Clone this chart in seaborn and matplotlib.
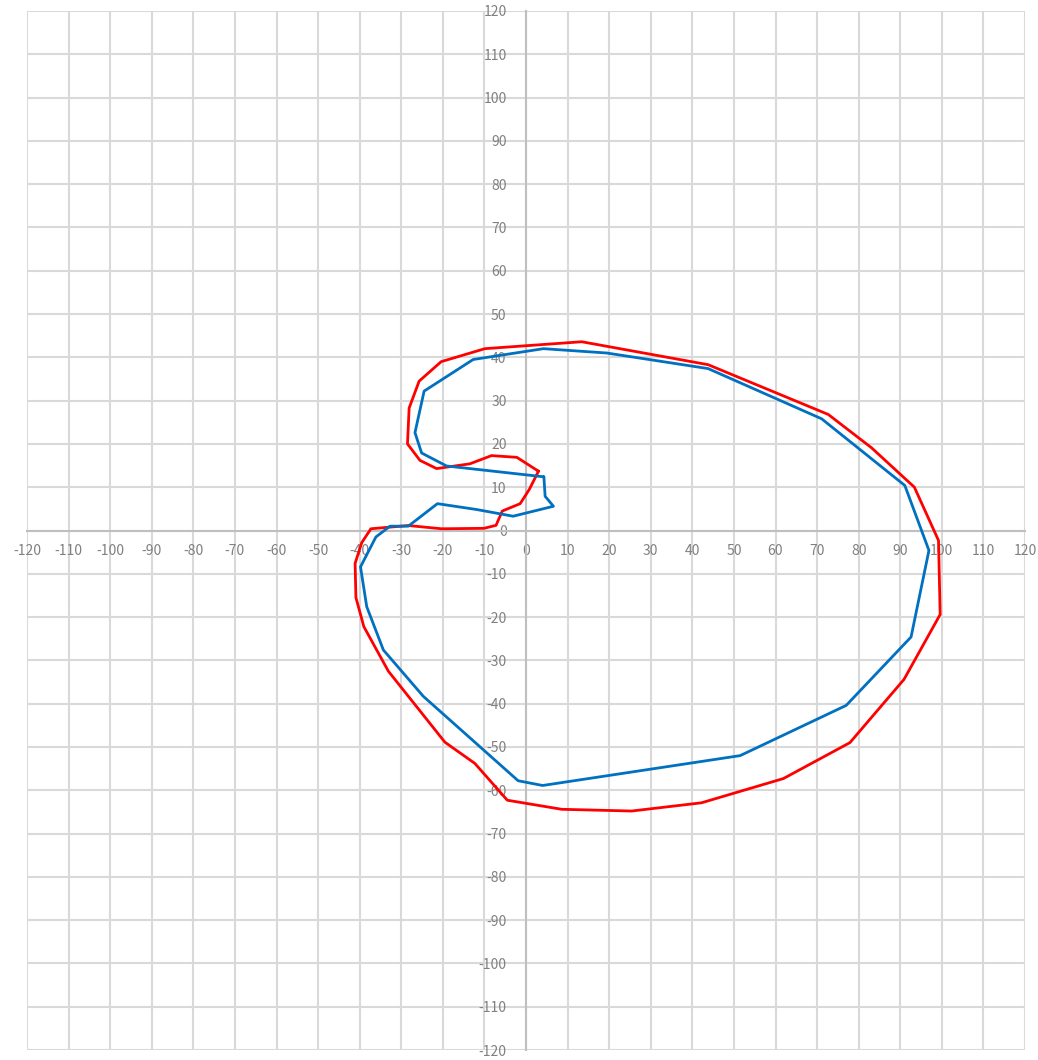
import matplotlib
matplotlib.use("Agg")

import pandas as pd
import matplotlib.pyplot as plt
import seaborn as sns

# data (x, y), closed loops
red_x = [3.0, -2.2, -8.3, -13.5, -21.5, -25.5, -28.5, -28.1, -25.7, -20.4, -9.9, 13.4,
         43.8, 72.7, 83.1, 93.4, 99.2, 99.6, 90.9, 77.9, 61.9, 42.2, 25.4, 8.6, -4.5,
         -12.3, -19.5, -33.1, -39.0, -40.9, -41.1, -39.5, -37.3, -28.3, -20.3, -10.1,
         -7.2, -5.7, -1.4, 0.8, 3.0]
red_y = [13.7, 16.9, 17.3, 15.4, 14.3, 16.2, 20.0, 28.3, 34.5, 39.0, 42.0, 43.6,
         38.3, 26.8, 19.1, 10.0, -2.3, -19.4, -34.4, -49.0, -57.3, -62.9, -64.8, -64.4, -62.3,
         -53.8, -48.9, -32.5, -22.2, -15.5, -7.6, -2.8, 0.4, 1.15, 0.4, 0.5,
         1.2, 4.5, 6.2, 9.5, 13.7]

blue_x = [4.3, -19.1, -25.1, -26.7, -24.5, -12.7, 4.2, 19.4, 43.8, 71.1, 91.1, 96.9,
          92.6, 77.0, 51.5, 4.0, -1.9, -24.7, -34.3, -38.3, -39.8, -36.1, -32.7, -28.3,
          -21.3, -11.9, -3.1, 6.6, 4.6, 4.3]
blue_y = [12.4, 14.9, 17.9, 22.6, 32.2, 39.5, 42.0, 41.0, 37.4, 25.8, 10.4, -4.6,
          -24.6, -40.4, -52.0, -58.9, -57.8, -38.3, -27.6, -17.6, -8.4, -1.5, 1.0, 1.0,
          6.2, 4.85, 3.3, 5.6, 7.9, 12.4]

ticks = list(range(-120, 121, 10))

df_red = pd.DataFrame({"x": red_x, "y": red_y})
df_blue = pd.DataFrame({"x": blue_x, "y": blue_y})

sns.set_style("white")
plt.rcParams["font.family"] = ["Noto Sans CJK JP", "DejaVu Sans"]
plt.rcParams["axes.unicode_minus"] = False

fig = plt.figure(figsize=(10.38, 10.6), dpi=100)
ax = fig.add_axes([27 / 1038, 1 - 1050 / 1060, 998 / 1038, 1039 / 1060])

sns.lineplot(data=df_red, x="x", y="y", sort=False, estimator=None,
             color="#FF0000", linewidth=2.0, ax=ax, zorder=3)
sns.lineplot(data=df_blue, x="x", y="y", sort=False, estimator=None,
             color="#0070C0", linewidth=2.0, ax=ax, zorder=4)

ax.set_xlim(-120, 120)
ax.set_ylim(-120, 120)
ax.set_xticks(ticks)
ax.set_yticks(ticks)
ax.set_xlabel("")
ax.set_ylabel("")

ax.grid(True, color="#d9d9d9", linewidth=1.5, zorder=0)
ax.set_axisbelow(True)

ax.spines["left"].set_position(("data", 0))
ax.spines["bottom"].set_position(("data", 0))
for s in ["left", "bottom"]:
    ax.spines[s].set_color("#bfbfbf")
    ax.spines[s].set_linewidth(1.5)
    ax.spines[s].set_zorder(1)
for s in ["top", "right"]:
    ax.spines[s].set_visible(False)

ax.tick_params(axis="both", length=0, labelsize=10, labelcolor="#808080")
ax.tick_params(axis="x", pad=10)
ax.tick_params(axis="y", pad=14)
for lab in ax.get_xticklabels() + ax.get_yticklabels():
    lab.set_clip_on(False)

fig.savefig("out.png", dpi=100)
